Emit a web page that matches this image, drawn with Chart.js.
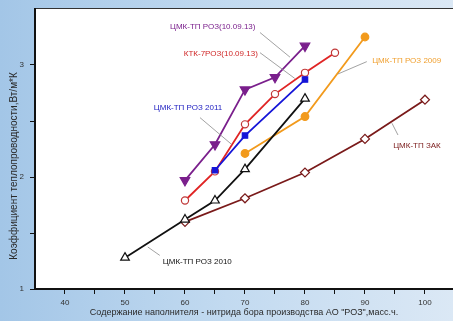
<!DOCTYPE html>
<html>
<head>
<meta charset="utf-8">
<script src="https://cdn.jsdelivr.net/npm/chart.js@4.4.1/dist/chart.umd.min.js"></script>
<style>
    html, body { margin: 0; padding: 0; overflow: hidden; background: #c4dbf0; }
    canvas { display: block; }
</style>
</head>
<body>
<canvas id="chart" width="453" height="321"></canvas>
<script>
// Data
const xTicks = [40, 45, 50, 55, 60, 65, 70, 75, 80, 85, 90, 95, 100];
const yTicks = [1, 1.5, 2, 2.5, 3];

const purpleX = [60, 65, 70, 75, 80];
const purpleY = [1.97, 2.29, 2.78, 2.89, 3.17];

const redX = [60, 65, 70, 75, 80, 85];
const redY = [1.79, 2.05, 2.47, 2.74, 2.93, 3.11];

const blueX = [65, 70, 80];
const blueY = [2.06, 2.37, 2.87];

const orangeX = [70, 80, 90];
const orangeY = [2.21, 2.54, 3.25];

const blackX = [50, 60, 65, 70, 80];
const blackY = [1.28, 1.62, 1.79, 2.07, 2.70];

const maroonX = [60, 70, 80, 90, 100];
const maroonY = [1.60, 1.81, 2.04, 2.34, 2.69];

// Labels with leader lines (data coordinates)
const callouts = [
    { text: 'ЦМК-ТП РОЗ(10.09.13)', color: '#7a1f8c', at: [57.5, 3.34], line: [[72.5, 3.29], [77.5, 3.07]] },
    { text: 'КТК-7РОЗ(10.09.13)', color: '#d02828', at: [59.8, 3.10], line: [[72.5, 3.11], [78.3, 2.88]] },
    { text: 'ЦМК-ТП РОЗ 2011', color: '#1a1ac0', at: [54.8, 2.62], line: [[62.5, 2.53], [67.8, 2.29]] },
    { text: 'ЦМК-ТП РОЗ 2009', color: '#f0a030', at: [91.2, 3.04], line: [[90.3, 3.03], [85.5, 2.92]] },
    { text: 'ЦМК-ТП ЗАК', color: '#7a1a1a', at: [94.7, 2.28], line: [[94.5, 2.48], [95.5, 2.375]] },
    { text: 'ЦМК-ТП РОЗ 2010', color: '#111111', at: [56.3, 1.24], line: [[53.8, 1.375], [55.8, 1.30]] }
];

const xTitle = 'Содержание наполнителя - нитрида бора производства АО "РОЗ",масс.ч.';
const yTitle = 'Коэффициент теплопроводности,Вт/м*К';

const FONT = '"Liberation Sans", Arial, sans-serif';

function pts(xs, ys) {
    return xs.map((x, i) => ({ x: x, y: ys[i] }));
}

function series(xs, ys, color, extra) {
    return Object.assign({
        data: pts(xs, ys),
        borderColor: color,
        backgroundColor: color,
        pointBorderColor: color,
        pointBackgroundColor: color,
        borderWidth: 1.8,
        pointBorderWidth: 1.2,
        pointRadius: 4,
        tension: 0,
        fill: false
    }, extra);
}

// Background, plot area, titles and callouts
const decorPlugin = {
    id: 'decor',
    beforeDraw(chart) {
        const { ctx, chartArea: a, width, height } = chart;
        ctx.save();
        const g = ctx.createLinearGradient(0, 0, width, 0);
        g.addColorStop(0, '#a3c6e7');
        g.addColorStop(0.5, '#c2daf0');
        g.addColorStop(1, '#dbe8f5');
        ctx.fillStyle = g;
        ctx.fillRect(0, 0, width, height);
        ctx.fillStyle = '#ffffff';
        ctx.fillRect(a.left, a.top, a.right - a.left, a.bottom - a.top);
        ctx.strokeStyle = '#333333';
        ctx.lineWidth = 1;
        ctx.beginPath();
        ctx.moveTo(a.left, a.top - 0.5);
        ctx.lineTo(a.right, a.top - 0.5);
        ctx.stroke();
        ctx.restore();
    },
    afterDatasetsDraw(chart) {
        const { ctx, scales } = chart;
        const px = v => scales.x.getPixelForValue(v);
        const py = v => scales.y.getPixelForValue(v);
        ctx.save();
        ctx.font = '8px ' + FONT;
        ctx.textBaseline = 'middle';
        ctx.textAlign = 'left';
        callouts.forEach(c => {
            ctx.strokeStyle = '#8a8a8a';
            ctx.lineWidth = 0.8;
            ctx.beginPath();
            ctx.moveTo(px(c.line[0][0]), py(c.line[0][1]));
            ctx.lineTo(px(c.line[1][0]), py(c.line[1][1]));
            ctx.stroke();
            ctx.fillStyle = c.color;
            ctx.fillText(c.text, px(c.at[0]), py(c.at[1]));
        });

        // axis titles
        ctx.fillStyle = '#2a2a2a';
        ctx.font = '9px ' + FONT;
        ctx.textAlign = 'center';
        ctx.fillText(xTitle, (chart.chartArea.left + chart.chartArea.right) / 2, 313);
        ctx.translate(14, 166);
        ctx.rotate(-Math.PI / 2);
        ctx.font = '10px ' + FONT;
        ctx.fillText(yTitle, 0, 0);
        ctx.restore();
    }
};

const ctx = document.getElementById('chart').getContext('2d');
new Chart(ctx, {
    type: 'line',
    data: {
        datasets: [
            series(blackX, blackY, '#111111', { pointStyle: 'triangle', pointRadius: 5, pointBackgroundColor: '#ffffff' }),
            series(maroonX, maroonY, '#7a1a1a', { pointStyle: 'rectRot', pointRadius: 4.5, pointBackgroundColor: '#ffffff' }),
            series(orangeX, orangeY, '#f29a1c', { pointStyle: 'circle', pointRadius: 3.8 }),
            series(blueX, blueY, '#1515d8', { pointStyle: 'rect', pointRadius: 3.8 }),
            series(redX, redY, '#e02424', { pointStyle: 'circle', pointRadius: 3.6, pointBorderColor: '#c03838', pointBackgroundColor: '#ffffff' }),
            series(purpleX, purpleY, '#7a1f8c', { pointStyle: 'triangle', pointRotation: 180, pointRadius: 5.5 })
        ]
    },
    options: {
        responsive: false,
        animation: false,
        layout: { autoPadding: false, padding: { top: 9, right: 0, left: 0, bottom: 0 } },
        plugins: {
            legend: { display: false },
            tooltip: { enabled: false }
        },
        scales: {
            x: {
                type: 'linear',
                min: 35,
                max: 104.67,
                afterFit: s => { s.height = 32; s.paddingLeft = 0; s.paddingRight = 0; },
                afterBuildTicks: s => { s.ticks = xTicks.map(v => ({ value: v })); },
                border: { color: '#111111', width: 2 },
                grid: { drawOnChartArea: false, color: '#111111', tickLength: 5, tickWidth: 1 },
                ticks: {
                    autoSkip: false,
                    maxRotation: 0,
                    padding: 4,
                    color: '#333333',
                    font: { size: 8, family: FONT },
                    callback: v => (v % 10 === 0 ? String(v) : '')
                }
            },
            y: {
                type: 'linear',
                min: 1,
                max: 3.5,
                afterFit: s => { s.width = 35; s.paddingTop = 0; s.paddingBottom = 0; },
                afterBuildTicks: s => { s.ticks = yTicks.map(v => ({ value: v })); },
                border: { color: '#111111', width: 2 },
                grid: { drawOnChartArea: false, color: '#111111', tickLength: 5, tickWidth: 1 },
                ticks: {
                    autoSkip: false,
                    padding: 6,
                    color: '#333333',
                    font: { size: 8, family: FONT },
                    callback: v => (Number.isInteger(v) ? String(v) : '')
                }
            }
        }
    },
    plugins: [decorPlugin]
});
</script>
</body>
</html>
